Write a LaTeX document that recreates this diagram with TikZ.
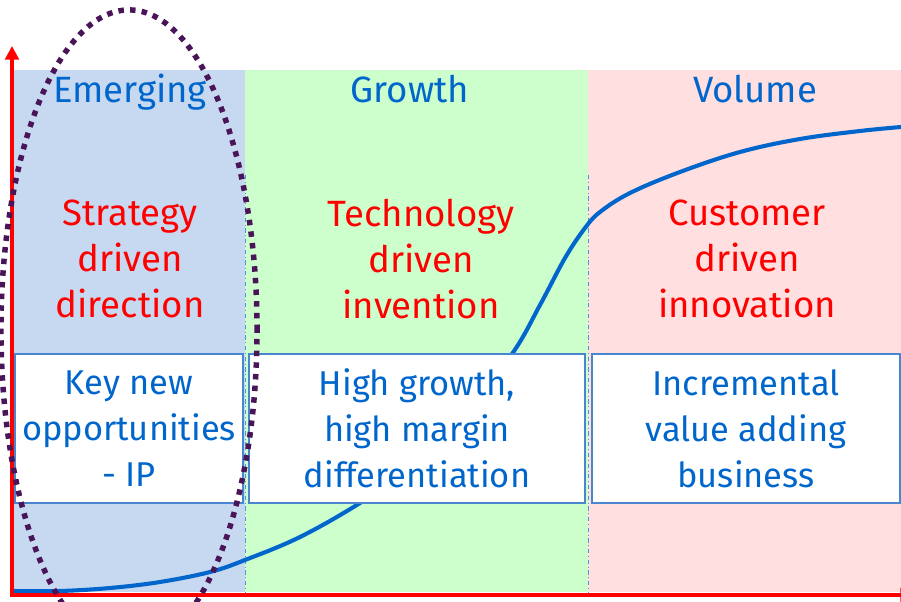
\documentclass[tikz,border=0pt]{standalone}
\usepackage{fontspec}
\setmainfont{Fira Sans}
\usetikzlibrary{arrows.meta, positioning}
\definecolor{phaseblue}{HTML}{C6D9F1}
\definecolor{phasegreen}{HTML}{CCFFCC}
\definecolor{phasepink}{HTML}{FFDFDF}
\definecolor{textblue}{HTML}{0066CC}
\definecolor{boxline}{HTML}{4A86CF}
\definecolor{ringpurple}{HTML}{4A1458}
\tikzset{
	x=0.025cm, y=-0.025cm,
	phase/.style={text=textblue, anchor=base, font=\fontsize{26}{32}\selectfont},
	driver/.style={text=red, align=center, font=\fontsize{26}{32.5}\selectfont},
	outcome/.style={draw=boxline, line width=0.8pt, fill=white, text=textblue,
		align=center, inner sep=0pt, minimum height=3.725cm,
		font=\fontsize{24.5}{32.7}\selectfont},
	axis/.style={red, line width=2.8pt, {Triangle[length=0.34cm,width=0.34cm]}-{Triangle[length=0.34cm,width=0.34cm]}},
	border/.style={draw=textblue!70, line width=0.6pt, dash dot},
	curve/.style={draw=textblue, line width=2.9pt},
	ring/.style={draw=ringpurple, line width=3.9pt, dash pattern=on 3.9pt off 4.4pt}}

\begin{document}
\begin{tikzpicture}
	\useasboundingbox (0,0) rectangle (901,602);
	\clip (0,0) rectangle (901,602);

	% the three phases
	\fill[phaseblue] (14,70) rectangle (245,592);
	\fill[phasegreen] (245,70) rectangle (588,592);
	\fill[phasepink] (588,70) rectangle (901,592);
	\draw[border] (245,175) -- (245,592);
	\draw[border] (588,175) -- (588,592);

	% s-curve
	\draw[curve] plot[smooth, tension=0.6] coordinates {
		(14,591) (60,591) (110,588) (160,582) (210,572) (245,560) (300,537)
		(360,503) (410,468) (460,420) (512,354) (540,305) (565,258) (585,228)
		(600,212) (630,193) (680,172) (740,152) (800,139) (860,131) (901,127)};

	\node[phase] (emerging) at (130,103) {Emerging};
	\node[phase] (growth) at (410,103) {Growth};
	\node[phase] (volume) at (755,103) {Volume};

	\node[driver] (strategy) at (130,259) {Strategy\\driven\\direction};
	\node[driver] (technology) at (421,259) {Technology\\driven\\invention};
	\node[driver] (customer) at (747,259) {Customer\\driven\\innovation};

	\node[outcome, minimum width=5.7cm] (keynew) at (129,428.5) {Key new\\opportunities\\- IP};
	\node[outcome, minimum width=8.4cm] (highgrowth) at (417,428.5) {High growth,\\high margin\\differentiation};
	\node[outcome, minimum width=7.7cm] (incremental) at (746,428.5) {Incremental\\value adding\\business};

	% axes
	\coordinate (origin) at (12,595);
	\coordinate (ytip) at (12,46);
	\coordinate (xtip) at (914,595);
	\draw[axis] (ytip) -- (origin) -- (xtip);

	\draw[ring] (129,330) ellipse [x radius=3.2cm, y radius=8cm];
\end{tikzpicture}
\end{document}
